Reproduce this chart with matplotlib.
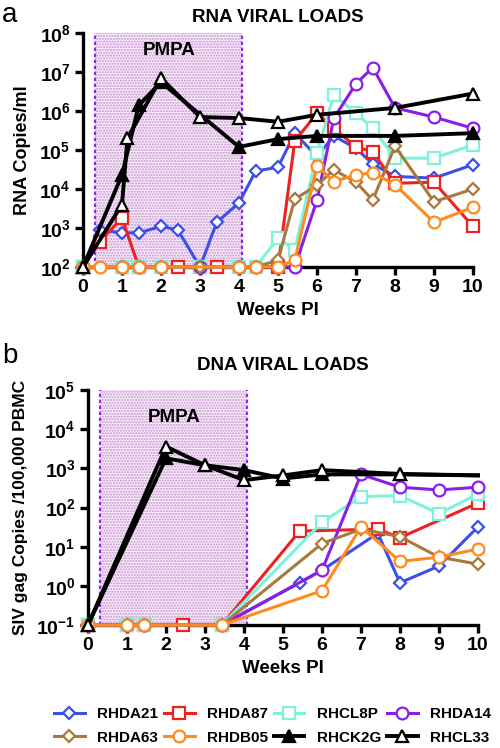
import math
import matplotlib
matplotlib.use('Agg')
import matplotlib.pyplot as plt
from matplotlib.ticker import FixedLocator, FuncFormatter

plt.rcParams['font.family'] = 'Liberation Sans'
plt.rcParams['font.weight'] = 'bold'
plt.rcParams['mathtext.fontset'] = 'custom'
plt.rcParams['mathtext.rm'] = 'Liberation Sans:bold'
plt.rcParams['mathtext.bf'] = 'Liberation Sans:bold'
plt.rcParams['hatch.linewidth'] = 1.0

names = ['RHDA21', 'RHDA87', 'RHCL8P', 'RHDA14', 'RHDA63', 'RHDB05', 'RHCK2G', 'RHCL33']
colors = ['#3a50e8', '#ee2020', '#80f2dc', '#8a1ee6', '#a8793c', '#ff8a1e', 'black', 'black']
markers = ['D', 's', 's', 'o', 'D', 'o', '^', '^']

# RNA viral loads (copies/ml)
rna_wk = [
    [0, 0.43, 1, 1.43, 2, 2.43, 3, 3.43, 4, 4.43, 5, 5.43, 6, 6.43, 7, 7.43, 8, 9, 10],
    [0, 0.43, 1, 1.43, 2.43, 3, 3.43, 5, 5.43, 6, 6.43, 7, 7.43, 8, 9, 10],
    [0, 1, 1.43, 2, 3, 4, 4.43, 5, 5.43, 6, 6.43, 7, 7.43, 8, 9, 10],
    [0, 1, 1.43, 2, 3, 4, 4.43, 5, 5.43, 6, 6.43, 7, 7.43, 8, 9, 10],
    [0, 1, 1.43, 2, 3, 4, 4.43, 5, 5.43, 6, 6.43, 7, 7.43, 8, 9, 10],
    [0, 0.43, 1, 1.43, 2, 4, 4.43, 5, 5.43, 6, 6.43, 7, 7.43, 8, 9, 10],
    [0, 1, 1.43, 2, 4, 5, 6, 8, 10],
    [0, 1, 1.14, 2, 3, 4, 5, 6, 8, 10],
]
rna_rhda21 = [1e2, 9e2, 7.5e2, 7.5e2, 1.1e3, 9e2, 1e2, 1.4e3, 4.4e3, 2.9e4, 3.6e4, 2.7e5, 6.8e4, 2.3e5, 1.1e5, 4.4e4, 2.1e4, 1.9e4, 4.2e4]
rna_rhda87 = [1e2, 4.5e2, 1.8e3, 1e2, 1e2, 1e2, 1e2, 1e2, 1.7e5, 8.7e5, 3.6e5, 1.2e5, 9e4, 1.4e4, 1.5e4, 1.1e3]
rna_rhcl8p = [1e2, 1e2, 1e2, 1e2, 1e2, 1e2, 1e2, 5.5e2, 2.8e2, 8.5e4, 2.6e6, 8.7e5, 3.6e5, 6.2e4, 6.2e4, 1.35e5]
rna_rhda14 = [1e2, 1e2, 1e2, 1e2, 1e2, 1e2, 1e2, 1e2, 1e2, 5.2e3, 6.5e5, 5e6, 1.3e7, 1.2e6, 7e5, 3.6e5]
rna_rhda63 = [1e2, 1e2, 1e2, 1e2, 1e2, 1e2, 1e2, 1.5e2, 5.5e3, 1.25e4, 3.1e4, 1.5e4, 5.2e3, 1.25e5, 4.7e3, 1e4]
rna_rhdb05 = [1e2, 1e2, 1e2, 1e2, 1e2, 1e2, 1e2, 1e2, 1.5e2, 3.9e4, 1.55e4, 2.3e4, 2.6e4, 1.3e4, 1.4e3, 3.4e3]
rna_rhck2g = [1e2, 2.3e4, 1.4e6, 5.5e6, 1.2e5, 1.9e5, 2.3e5, 2.3e5, 2.7e5]
rna_rhcl33 = [1e2, 4e3, 2e5, 7e6, 7e5, 6.6e5, 5.3e5, 8e5, 1.2e6, 2.8e6]
rna_vals = [rna_rhda21, rna_rhda87, rna_rhcl8p, rna_rhda14, rna_rhda63, rna_rhdb05, rna_rhck2g, rna_rhcl33]

# DNA viral loads (SIV gag copies / 100,000 PBMC)
dna_wk = [
    [0, 1, 1.43, 3.43, 5.43, 6, 7.43, 8, 9, 10],
    [0, 1, 1.43, 2.43, 3.43, 5.43, 7.43, 8, 10],
    [0, 1, 1.43, 3.43, 6, 7, 8, 9, 10],
    [0, 1, 1.43, 3.43, 6, 7, 8, 9, 10],
    [0, 1, 1.43, 3.43, 6, 7, 8, 9, 10],
    [0, 1, 1.43, 3.43, 6, 7, 8, 9, 10],
    [0, 2, 3, 4, 5, 6, 8, 10],
    [0, 2, 3, 4, 5, 6, 8, 10],
]
dna_rhda21 = [0.1, 0.1, 0.1, 0.1, 1.2, 2.5, 22, 1.2, 3.2, 32]
dna_rhda87 = [0.1, 0.1, 0.1, 0.1, 0.1, 25, 28, 17, 130]
dna_rhcl8p = [0.1, 0.1, 0.1, 0.1, 42, 190, 200, 70, 220]
dna_rhda14 = [0.1, 0.1, 0.1, 0.1, 2.5, 700, 330, 280, 330]
dna_rhda63 = [0.1, 0.1, 0.1, 0.1, 12, 28, 18, 5.4, 3.6]
dna_rhdb05 = [0.1, 0.1, 0.1, 0.1, 0.75, 32, 4.2, 5.4, 8.7]
dna_rhck2g = [0.1, 1.8e3, 1.2e3, 9e2, 5.5e2, 7e2, 7e2, 6.6e2]
dna_rhcl33 = [0.1, 3.6e3, 1.2e3, 5e2, 6.6e2, 9e2, 7.2e2, 6.6e2]
dna_vals = [dna_rhda21, dna_rhda87, dna_rhcl8p, dna_rhda14, dna_rhda63, dna_rhdb05, dna_rhck2g, dna_rhcl33]

pmpa_start, pmpa_end = 0.3, 4.08
purple = '#8a2be2'


def pow10(x, pos):
    return r'$\mathbf{10^{%d}}$' % round(math.log10(x))


def draw_panel(ax, wks, vals, ylo, yhi, pmpa_drop, dna=False):
    ax.axvspan(pmpa_start, pmpa_end, facecolor='#f9eef8', edgecolor='#c48fd2',
               hatch='......', linewidth=0, zorder=0)
    for xv in (pmpa_start, pmpa_end):
        ax.axvline(xv, color=purple, lw=1.6, ls=(0, (1.5, 1.2)), zorder=1)
    handles = []
    for i in range(len(names)):
        black = i >= 6
        mfc = 'black' if i == 6 else 'white'
        me = None
        if dna and black:
            me = list(range(len(wks[i]) - 1))
        h, = ax.plot(wks[i], vals[i], color=colors[i], marker=markers[i],
                     mfc=mfc, mec=colors[i], mew=1.6,
                     ms=6 if markers[i] == 'D' else 8.5,
                     lw=2.8 if black else 2.2, clip_on=False, zorder=3,
                     markevery=me, label=names[i])
        handles.append(h)
    ax.set_yscale('log')
    ax.set_ylim(ylo, yhi)
    ax.set_xlim(0, 10)
    ax.set_xticks(range(0, 11))
    lo, hi = int(round(math.log10(ylo))), int(round(math.log10(yhi)))
    ax.yaxis.set_major_locator(FixedLocator([10.0 ** k for k in range(lo, hi + 1)]))
    ax.yaxis.set_major_formatter(FuncFormatter(pow10))
    ax.yaxis.set_minor_locator(FixedLocator([]))
    for s in ['top', 'right']:
        ax.spines[s].set_visible(False)
    for s in ['left', 'bottom']:
        ax.spines[s].set_linewidth(2.4)
    ax.tick_params(width=2.4, length=6, labelsize=14, pad=3)
    for lab in ax.get_xticklabels():
        lab.set_fontweight('bold')
    ax.set_xlabel('Weeks PI', fontsize=13.5, fontweight='bold', labelpad=4)
    ax.text(2.2, yhi / 10 ** pmpa_drop, 'PMPA', ha='center', va='center', fontsize=13.5, fontweight='bold')
    return handles


fig = plt.figure(figsize=(5.0, 7.48), dpi=100)
ax1 = fig.add_axes([83 / 500, 1 - 267 / 748, 390 / 500, 234 / 748])
ax2 = fig.add_axes([88 / 500, 1 - 625 / 748, 390 / 500, 235 / 748])

handles = draw_panel(ax1, rna_wk, rna_vals, 1e2, 1e8, 0.45)
draw_panel(ax2, dna_wk, dna_vals, 1e-1, 1e5, 0.7, dna=True)

ax1.set_ylabel('RNA Copies/ml', fontsize=13, fontweight='bold', labelpad=6)
ax2.set_ylabel('SIV gag Copies /100,000 PBMC', fontsize=12.5, fontweight='bold', labelpad=6)

fig.text(278 / 500, 1 - 18 / 748, 'RNA VIRAL LOADS', ha='center', va='center', fontsize=13.5, fontweight='bold')
fig.text(283 / 500, 1 - 365 / 748, 'DNA VIRAL LOADS', ha='center', va='center', fontsize=13.5, fontweight='bold')
fig.text(0.004, 1 - 2 / 748, 'a', ha='left', va='top', fontsize=20, fontweight='normal')
fig.text(0.004, 1 - 343 / 748, 'b', ha='left', va='top', fontsize=20, fontweight='normal')

order = [0, 4, 1, 5, 2, 6, 3, 7]
fig.legend([handles[i] for i in order], [names[i] for i in order], ncol=4,
           loc='center', bbox_to_anchor=(0.545, 1 - 726 / 748), frameon=False,
           prop={'size': 11, 'weight': 'bold'}, handlelength=2.0, handletextpad=0.8,
           columnspacing=0.4, labelspacing=0.6, borderpad=0.2)

fig.savefig('out.png', dpi=100)
